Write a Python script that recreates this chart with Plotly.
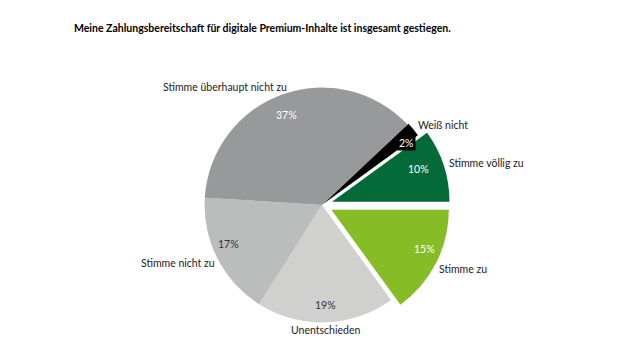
import math
import plotly.graph_objects as go

# ---- data ----
categories = ["Stimme zu", "Unentschieden", "Stimme nicht zu",
              "Stimme überhaupt nicht zu", "Weiß nicht", "Stimme völlig zu"]
values = [15, 19, 17, 37, 2, 10]
title_text = "Meine Zahlungsbereitschaft für digitale Premium-Inhalte ist insgesamt gestiegen."

# ---- style ----
colors = ["#86BC25", "#D0D0CE", "#BBBCBC", "#97999B", "#000000", "#046A38"]
pulls = [0.09, 0, 0, 0, 0.01, 0.09]
pct_colors = ["white", "#333333", "#333333", "white", "white", "white"]
pct_radius = [0.89, 0.92, 0.89, 0.89, 0.92, 0.89]
FONT = "Lato"

W, H = 630, 360
ML, MR, MT, MB = 14, 0, 77, 27
PW, PH = W - ML - MR, H - MT - MB
CX, CY = ML + PW / 2, MT + PH / 2
R = min(PW, PH) / (2 + 2 * max(pulls))

def to_paper(px, py):
    return (px - ML) / PW, 1 - (py - MT) / PH

fig = go.Figure(go.Pie(
    labels=categories, values=values, sort=False, direction="clockwise",
    rotation=90, pull=pulls, marker=dict(colors=colors, line=dict(width=0)),
    textinfo="none", hoverinfo="label+percent", showlegend=False,
    domain=dict(x=[0, 1], y=[0, 1]),
))

annotations = []
# percentage labels, placed from the data angles
total = sum(values)
cum = 0
for v, p, c, rf in zip(values, pulls, pct_colors, pct_radius):
    mid = (cum + v / 2) / total * 2 * math.pi  # clockwise from east
    cum += v
    r = R * (rf + p)
    px = CX + r * math.cos(mid)
    py = CY + r * math.sin(mid)
    x, y = to_paper(px, py)
    annotations.append(dict(
        x=x, y=y, xref="paper", yref="paper", text=f"{v}%", showarrow=False,
        font=dict(family=FONT, size=10.5, color=c),
        bgcolor="black" if v == 2 else None, borderpad=1,
    ))

# category labels (text placement)
label_pos = {
    "Stimme zu": (463, 269, "center"),
    "Unentschieden": (326, 330, "center"),
    "Stimme nicht zu": (178, 263, "center"),
    "Stimme überhaupt nicht zu": (225, 87, "center"),
    "Weiß nicht": (443, 125, "center"),
    "Stimme völlig zu": (447, 163, "left"),
}
for cat in categories:
    px, py, anc = label_pos[cat]
    x, y = to_paper(px, py)
    annotations.append(dict(
        x=x, y=y, xref="paper", yref="paper", text=cat, showarrow=False,
        xanchor=anc, yanchor="middle",
        font=dict(family=FONT, size=10.5, color="#222222"),
    ))

tx, ty = to_paper(72, 28)
annotations.append(dict(
    x=tx, y=ty, xref="paper", yref="paper",
    text=f"<b>{title_text}</b>", showarrow=False, xanchor="left", yanchor="middle",
    font=dict(family=FONT, size=10.5, color="black"),
))

fig.update_layout(
    width=W, height=H, margin=dict(l=ML, r=MR, t=MT, b=MB),
    paper_bgcolor="white", plot_bgcolor="white",
    annotations=annotations,
)
fig.write_html("out.html")
